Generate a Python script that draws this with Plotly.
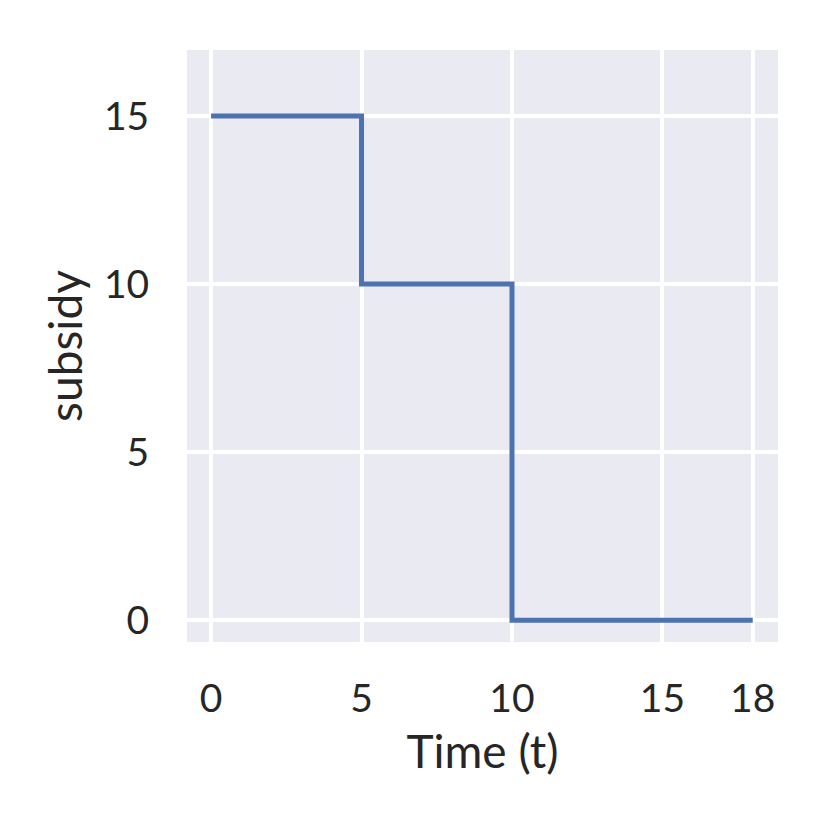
import plotly.graph_objects as go

# step schedule of the subsidy over time
time_points = [0, 5, 10, 18]
subsidy = [15, 10, 0, 0]

x_ticks = [0, 5, 10, 15, 18]
y_ticks = [0, 5, 10, 15]

fig = go.Figure(go.Scatter(
    x=time_points,
    y=subsidy,
    mode="lines",
    line=dict(color="#4C72B0", width=5, shape="hv"),
    showlegend=False,
))

axis_style = dict(
    showgrid=True,
    gridcolor="white",
    gridwidth=3.5,
    zeroline=False,
    showline=False,
    ticks="outside",
    tickcolor="rgba(0,0,0,0)",
    tickfont=dict(size=39, color="#262626"),
)

fig.update_layout(
    width=830,
    height=830,
    # the page adds an 8px body margin, so the plot box is shifted by that
    margin=dict(l=179, r=60, t=42, b=196),
    paper_bgcolor="white",
    plot_bgcolor="#EAEAF2",
    font=dict(family="Lato", color="#262626"),
    xaxis=dict(
        range=[-0.8, 18.84],
        tickvals=x_ticks,
        ticklen=22,
        title=dict(text="Time (t)", font=dict(size=46), standoff=17),
        **axis_style,
    ),
    yaxis=dict(
        range=[-0.65, 16.96],
        tickvals=y_ticks,
        ticklen=29,
        title=dict(text="subsidy", font=dict(size=46), standoff=6),
        **axis_style,
    ),
)

fig.write_html("out.html")
